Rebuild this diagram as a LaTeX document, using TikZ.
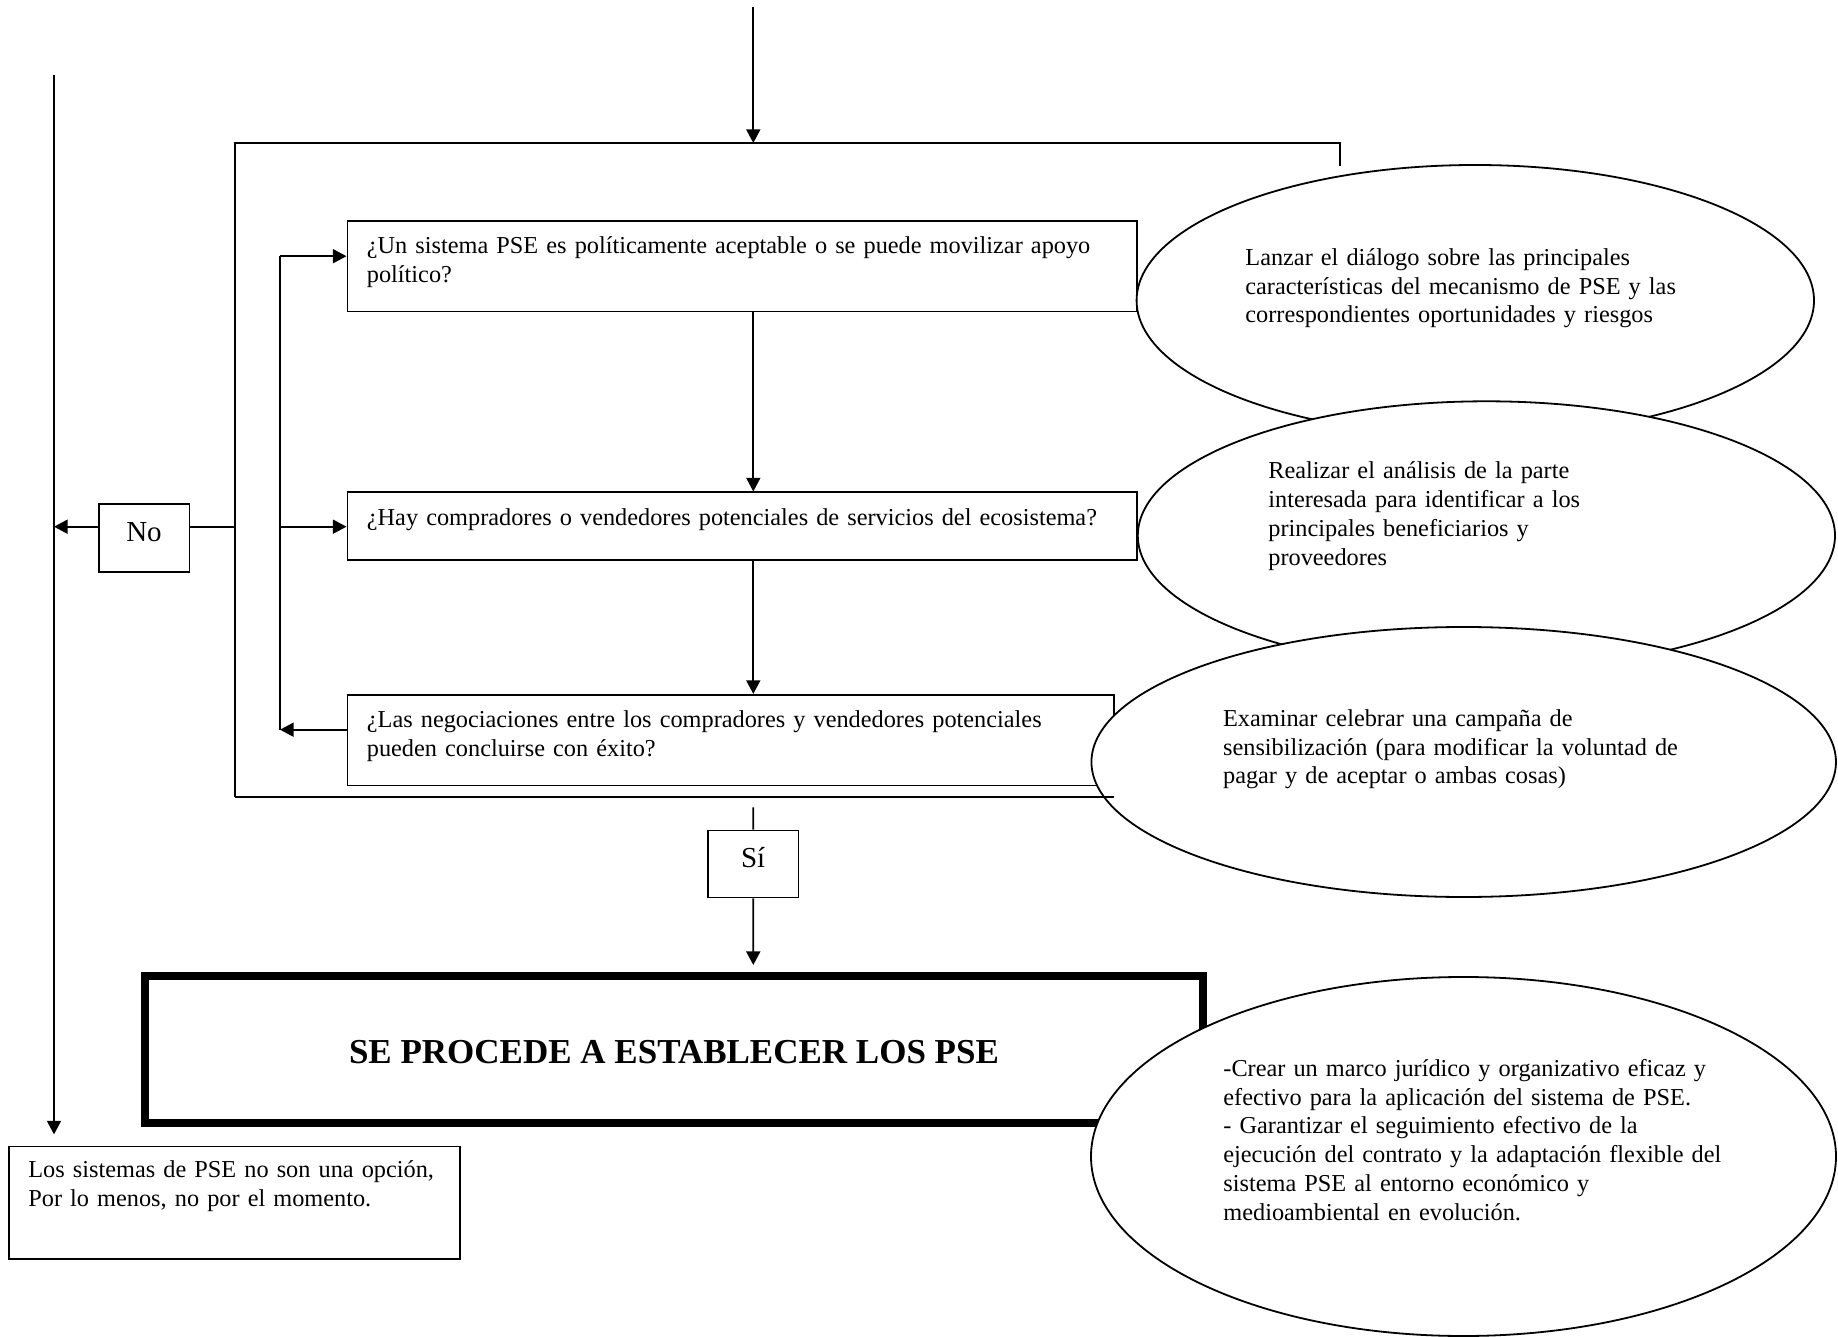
\documentclass[tikz,border=0pt]{standalone}
\usepackage{fontspec}
\setmainfont{Liberation Serif}
\usetikzlibrary{arrows.meta,shapes.geometric}
\begin{document}
\begin{tikzpicture}[x=0.5pt,y=-0.5pt,
  ln/.style={line width=0.9pt},
  arr/.style={ln,-{Triangle[length=6.8pt,width=7pt]}},
  qbox/.style={draw,ln,rectangle,inner sep=0pt},
  ell/.style={draw,ln,ellipse,fill=white,inner sep=0pt},
  txt/.style={inner sep=0pt,anchor=base west,text width=420pt,align=left,
              font=\fontsize{12.15pt}{14.35pt}\selectfont},
  lbl/.style={qbox,font=\fontsize{14.5pt}{17pt}\selectfont,text height=9.6pt,text depth=6.1pt}
]
\useasboundingbox (0,0) rectangle (1838,1337);

% frame coordinates
\coordinate (ftl) at (234.7,143);
\coordinate (ftr) at (1340,143);
\coordinate (fstub) at (1340,166);
\coordinate (fbl) at (234.7,797);
\coordinate (fbr) at (1114.3,797);
\coordinate (top) at (753.3,7);
\coordinate (lltop) at (54,75);
\coordinate (llbot) at (54,1134.4);
\coordinate (lpt) at (280,256.2);
\coordinate (lpm) at (280,526.7);
\coordinate (lpb) at (280,729.7);
\coordinate (sitop) at (753.3,807.4);
\coordinate (bigin) at (753.3,965);

% outer frame (top, left, stub)
\draw[ln] (fstub) -- (ftr) -- (ftl) -- (fbl);

% question boxes
\node[qbox,minimum width=394.6pt,minimum height=45.1pt] (b1) at (742,266.5) {};
\node[qbox,minimum width=394.6pt,minimum height=33.65pt] (b2) at (742,526) {};
\node[qbox,minimum width=383.45pt,minimum height=45.3pt] (b3) at (730.85,740.1) {};

\node[txt] (t1) at (366.5,254) {¿Un sistema PSE es políticamente aceptable o se puede movilizar apoyo\\político?};
\node[txt] (t2) at (366.5,525) {¿Hay compradores o vendedores potenciales de servicios del ecosistema?};
\node[txt] (t3) at (366.5,727.5) {¿Las negociaciones entre los compradores y vendedores potenciales\\pueden concluirse con éxito?};

% No / Si boxes
\node[lbl,minimum width=45.4pt,minimum height=33.9pt] (no) at (144,537.9) {No};
\node[lbl,minimum width=45.2pt,minimum height=33.55pt] (si) at (753.2,864) {Sí};

% connectors
\draw[arr] (top) -- (top |- ftl);
\draw[arr] (b1.south -| top) -- (b2.north -| top);
\draw[arr] (b2.south -| top) -- (b3.north -| top);
\draw[arr] (b3.west |- lpb) -- (lpb);
\draw[ln] (lpb) -- (lpt);
\draw[arr] (lpt) -- (b1.west |- lpt);
\draw[arr] (lpm) -- (b2.west |- lpm);
\draw[ln] (ftl |- lpm) -- (no.east |- lpm);
\draw[arr] (no.west |- lpm) -- (lltop |- lpm);
\draw[arr] (lltop) -- (llbot);
\draw[ln] (sitop) -- (si.north);
\draw[arr] (si.south) -- (bigin);

% ellipses
\node[ell,minimum width=338.7pt,minimum height=135.5pt] (e1) at (1475.3,300.5) {};
\node[ell,minimum width=348.6pt,minimum height=134.3pt] (e2) at (1486.4,535.6) {};
\node[ell,minimum width=372.25pt,minimum height=135pt] (e3) at (1463.7,762) {};

\draw[ln] (fbl) -- (fbr);

\node[txt] (te1) at (1245,265.5) {Lanzar el diálogo sobre las principales\\características del mecanismo de PSE y las\\correspondientes oportunidades y riesgos};
\node[txt] (te2) at (1268,479) {Realizar el análisis de la parte\\interesada para identificar a los\\principales beneficiarios y\\proveedores};
\node[txt] (te3) at (1222.7,726.5) {Examinar celebrar una campaña de\\sensibilización (para modificar la voluntad de\\pagar y de aceptar o ambas cosas)};

% main result box
\node[draw,line width=4pt,rectangle,inner sep=0pt,minimum width=529pt,minimum height=73.5pt,
      font=\fontsize{17.5pt}{21pt}\selectfont\bfseries,text height=14pt,text depth=0pt] (big) at (674,1049.5) {SE PROCEDE A ESTABLECER LOS PSE};

\node[ell,minimum width=372.5pt,minimum height=179.5pt] (e4) at (1463.5,1156.5) {};
\node[txt] (te4) at (1223,1076.5) {-Crear un marco jurídico y organizativo eficaz y\\efectivo para la aplicación del sistema de PSE.\\- Garantizar el seguimiento efectivo de la\\ejecución del contrato y la adaptación flexible del\\sistema PSE al entorno económico y\\medioambiental en evolución.};

% bottom-left box
\node[qbox,minimum width=225.6pt,minimum height=56.15pt] (nb) at (234.4,1202.6) {};
\node[txt] (tnb) at (28,1177.5) {Los sistemas de PSE no son una opción,\\Por lo menos, no por el momento.};
\end{tikzpicture}
\end{document}
